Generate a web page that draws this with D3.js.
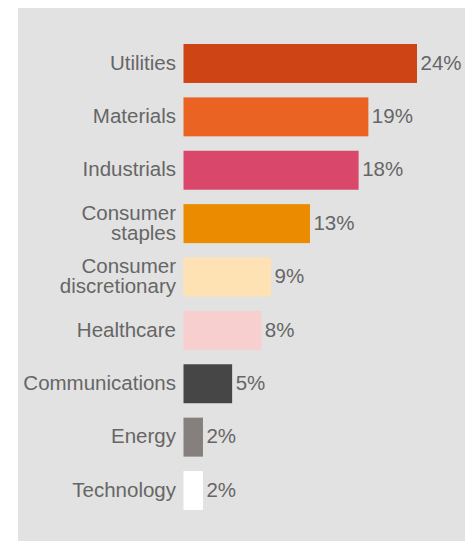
<!DOCTYPE html>
<html>
<head>
<meta charset="utf-8">
<script src="https://cdn.jsdelivr.net/npm/d3@7"></script>
<style>
  html, body { margin: 0; padding: 0; background: #ffffff; }
  svg { display: block; }
  text { font-family: "Liberation Sans", Arial, Helvetica, sans-serif; }
</style>
</head>
<body>
<div id="chart"></div>
<script>
// Sector shares, largest first
const categories = ["Utilities", "Materials", "Industrials", "Consumer staples",
  "Consumer discretionary", "Healthcare", "Communications", "Energy", "Technology"];
const values = [24, 19, 18, 13, 9, 8, 5, 2, 2];
const valueLabels = ["24%", "19%", "18%", "13%", "9%", "8%", "5%", "2%", "2%"];
const colors = ["#cf4415", "#eb6323", "#d9486a", "#eb8c00", "#ffe2b3",
  "#f7cfcf", "#464646", "#857f7d", "#ffffff"];

const width = 475, height = 541;
const fontSize = 20.5;

const svg = d3.select("#chart").append("svg")
  .attr("width", width)
  .attr("height", height);

// grey panel behind the chart
svg.append("rect")
  .attr("x", 18).attr("y", 8)
  .attr("width", 447).attr("height", 533)
  .attr("fill", "#e2e2e2");

const x = d3.scaleLinear().domain([0, 24]).range([183.5, 417]);
const y = d3.scaleBand().domain(categories).range([44, 510])
  .paddingInner(0.27).paddingOuter(0);

const rows = svg.append("g").selectAll("g")
  .data(categories.map((c, i) => ({ name: c, value: values[i], label: valueLabels[i], color: colors[i] })))
  .join("g");

rows.append("rect")
  .attr("x", x(0))
  .attr("y", d => y(d.name))
  .attr("width", d => x(d.value) - x(0))
  .attr("height", y.bandwidth())
  .attr("fill", d => d.color);

// category names, two-word sector names wrap onto two lines
const lineH = 20;
rows.append("text")
  .attr("text-anchor", "end")
  .attr("fill", "#666666")
  .attr("font-size", fontSize)
  .each(function (d) {
    const words = d.name.split(" ");
    const lines = words.length > 1 ? words : [d.name];
    const cy = y(d.name) + y.bandwidth() / 2 - 1;
    const t = d3.select(this);
    lines.forEach((ln, k) => {
      t.append("tspan")
        .attr("x", x(0) - 7.5)
        .attr("y", cy + (k - (lines.length - 1) / 2) * lineH)
        .attr("dy", "0.35em")
        .text(ln);
    });
  });

// value labels at the bar ends
rows.append("text")
  .attr("x", d => x(d.value) + 3.5)
  .attr("y", d => y(d.name) + y.bandwidth() / 2 - 1)
  .attr("dy", "0.35em")
  .attr("fill", "#666666")
  .attr("font-size", fontSize)
  .text(d => d.label);
</script>
</body>
</html>
